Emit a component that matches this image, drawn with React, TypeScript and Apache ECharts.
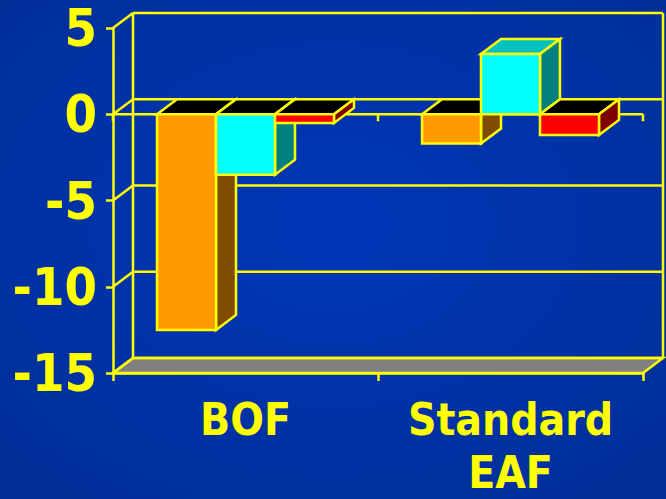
import React, { useEffect, useRef } from "react";
import * as echarts from "echarts";

const categories = ["BOF", "Standard\nEAF"];
const orangeValues = [-12.5, -1.7];
const cyanValues = [-3.5, 3.5];
const redValues = [-0.5, -1.2];
const yTicks = [5, 0, -5, -10, -15];

const YELLOW = "#FFFF00";
const FONT = "'DejaVu Sans Condensed', 'DejaVu Sans', sans-serif";
const DX = 20;
const DY = -15;
const BAR_FRAC = 0.2226;
const LW = 2.5;

function barSeries(values: number[], idx: number, front: string, side: string, topPos: string) {
  return {
    type: "custom",
    data: values.map((v, i) => [i, v]),
    encode: { x: 0, y: 1 },
    renderItem: (params: any, api: any) => {
      const ci = api.value(0);
      const v = api.value(1);
      const band = api.size([1, 0])[0];
      const bw = band * BAR_FRAC;
      const p0 = api.coord([ci, 0]);
      const pv = api.coord([ci, v]);
      const cx = p0[0];
      const xl = cx + (idx - 1) * bw - bw / 2;
      const xr = xl + bw;
      const yT = Math.min(p0[1], pv[1]);
      const yB = Math.max(p0[1], pv[1]);
      const st = { stroke: YELLOW, lineWidth: LW };
      return {
        type: "group",
        children: [
          {
            type: "polygon",
            shape: { points: [[xl, yT], [xr, yT], [xr + DX, yT + DY], [xl + DX, yT + DY]] },
            style: { fill: v < 0 ? "#000000" : topPos, ...st },
          },
          {
            type: "polygon",
            shape: { points: [[xr, yT], [xr + DX, yT + DY], [xr + DX, yB + DY], [xr, yB]] },
            style: { fill: side, ...st },
          },
          {
            type: "rect",
            shape: { x: xl, y: yT, width: bw, height: yB - yT },
            style: { fill: front, ...st },
          },
        ],
      };
    },
  };
}

export default function App() {
  const ref = useRef<HTMLDivElement>(null);
  useEffect(() => {
    if (!ref.current) return;
    const chart = echarts.init(ref.current, null, { renderer: "svg" });
    const frameSeries = {
      type: "custom",
      data: [[0, 0]],
      encode: { x: 0, y: 1 },
      silent: true,
      renderItem: (params: any, api: any) => {
        const cs = params.coordSys;
        const x0 = cs.x;
        const x1 = cs.x + cs.width;
        const yTop = api.coord([0, yTicks[0]])[1];
        const yBot = api.coord([0, yTicks[yTicks.length - 1]])[1];
        const y0 = api.coord([0, 0])[1];
        const ls = { stroke: YELLOW, lineWidth: LW };
        const children: any[] = [];
        children.push({
          type: "polygon",
          shape: { points: [[x0, yBot], [x1, yBot], [x1 + DX, yBot + DY], [x0 + DX, yBot + DY]] },
          style: { fill: "#808080", ...ls },
        });
        yTicks.forEach((t) => {
          const y = api.coord([0, t])[1];
          children.push({ type: "line", shape: { x1: x0 + DX, y1: y + DY, x2: x1 + DX, y2: y + DY }, style: ls });
          children.push({ type: "line", shape: { x1: x0, y1: y, x2: x0 + DX, y2: y + DY }, style: ls });
        });
        children.push({ type: "line", shape: { x1: x0 + DX, y1: yTop + DY, x2: x0 + DX, y2: yBot + DY }, style: ls });
        children.push({ type: "line", shape: { x1: x1 + DX, y1: yTop + DY, x2: x1 + DX, y2: yBot + DY }, style: ls });
        children.push({ type: "line", shape: { x1: x0, y1: y0, x2: x1, y2: y0 }, style: ls });
        const n = categories.length;
        for (let i = 0; i <= n; i++) {
          const x = x0 + ((x1 - x0) * i) / n;
          children.push({ type: "line", shape: { x1: x, y1: y0, x2: x, y2: y0 + 7 }, style: ls });
        }
        return { type: "group", children };
      },
    };
    chart.setOption({
      animation: false,
      backgroundColor: {
        type: "radial",
        x: 0.5,
        y: 0.45,
        r: 0.8,
        colorStops: [
          { offset: 0, color: "#0036B8" },
          { offset: 1, color: "#002E94" },
        ],
      },
      grid: { left: 113, right: 23, top: 28, bottom: 122 },
      xAxis: {
        type: "category",
        data: categories,
        boundaryGap: true,
        axisLine: { show: true, onZero: false, lineStyle: { color: YELLOW, width: LW } },
        axisTick: { show: true, length: 8, lineStyle: { color: YELLOW, width: LW } },
        axisLabel: {
          interval: 0,
          hideOverlap: false,
          color: YELLOW,
          fontSize: 44,
          fontWeight: "bold",
          fontFamily: FONT,
          lineHeight: 53,
          margin: 20,
        },
        splitLine: { show: false },
      },
      yAxis: {
        type: "value",
        min: -15,
        max: 5,
        interval: 5,
        axisLine: { show: true, lineStyle: { color: YELLOW, width: LW } },
        axisTick: { show: true, length: 7, lineStyle: { color: YELLOW, width: LW } },
        axisLabel: {
          color: YELLOW,
          fontSize: 52,
          lineHeight: 40,
          fontWeight: "bold",
          fontFamily: FONT,
          margin: 16,
        },
        splitLine: { show: false },
      },
      series: [
        frameSeries,
        barSeries(orangeValues, 0, "#FF9900", "#804C00", "#FFC000"),
        barSeries(cyanValues, 1, "#00FFFF", "#008080", "#00C0C0"),
        barSeries(redValues, 2, "#FF0000", "#800000", "#C00000"),
      ],
    });
    return () => chart.dispose();
  }, []);
  return (
    <div
      ref={ref}
      style={{ position: "absolute", left: 0, top: 0, width: 666, height: 499 }}
    />
  );
}
